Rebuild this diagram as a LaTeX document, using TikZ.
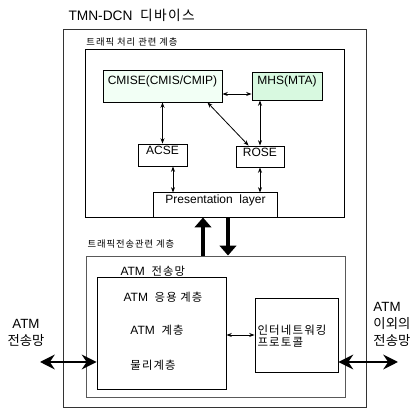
\documentclass[tikz,border=0pt]{standalone}
\usepackage{fontspec}
\setmainfont{Liberation Sans}
\newfontfamily\kr{Noto Sans CJK KR}
\newfontfamily\krwide[LetterSpace=10]{Noto Sans CJK KR}
\usetikzlibrary{fit,calc,arrows.meta}
\definecolor{cmisefill}{RGB}{242,255,245}
\definecolor{mhsfill}{RGB}{216,249,224}
\tikzset{every picture/.style={line width=0.75pt}}
\tikzset{
	layerbox/.style={draw, inner sep=0pt, line width=0.7pt},
	smalllabel/.style={anchor=west, inner sep=0pt, font=\krwide\fontsize{7}{8}\selectfont},
	boxtext/.style={inner sep=0pt, font=\fontsize{9}{10}\selectfont},
	thinarrow/.style={{Stealth[length=4pt,width=3pt]}-{Stealth[length=4pt,width=3pt]}, line width=0.6pt},
	fatarrow/.style={-{Triangle[length=7.5pt,width=12.5pt]}, line width=2.4pt},
	sidearrow/.style={{Stealth[length=11pt,width=11pt]}-{Stealth[length=11pt,width=11pt]}, line width=2.2pt}}

\begin{document}
\begin{tikzpicture}[x=0.75pt,y=0.75pt,yscale=-1,xscale=1]
	\useasboundingbox (0,0) rectangle (419,409);

	% Title
	\node[anchor=west, inner sep=0pt, font=\fontsize{10.3}{12}\selectfont] (title) at (68,15) {TMN-DCN\ \ {\krwide 디바이스}};
	% Device frame
	\node[layerbox, draw=black!80, fit={(63,29) (366,407)}] (device) {};

	%Upper layer
	\node[smalllabel] (uplabel) at (86,42) {트래픽 처리 관련 계층};
	\node[layerbox, fit={(85,49) (344,217)}] (upper) {};
	\node[layerbox, boxtext, fill=cmisefill, fit={(103,70) (222,102)}] (cmise) {CMISE(CMIS/CMIP)};
	\node[layerbox, boxtext, fill=mhsfill, fit={(252,72) (322,100)}] (mhs) {MHS(MTA)};
	\node[layerbox, boxtext, fit={(138,144) (187,166)}] (acse) {ACSE};
	\node[layerbox, boxtext, fit={(236,146) (284,167)}] (rose) {ROSE};
	\node[boxtext, fit={(154,193) (277,217)}] (pres) {Presentation\ \ layer};
	\draw[line width=0.7pt] (pres.south west) |- (pres.north east) -- (pres.south east);

	%Connectors of the upper layer
	\coordinate (acsefoot) at ($(acse.south)+(10.5,0)$);
	\draw[thinarrow] ($(cmise.east)+(0,8)$) -- ($(mhs.west)+(0,8)$);
	\draw[thinarrow] (cmise.south) -- (acse.north);
	\draw[thinarrow] ($(cmise.south east)+(-15,0)$) -- ($(rose.north west)+(13,0)$);
	\draw[thinarrow] (rose.north |- mhs.south) -- (rose.north);
	\draw[thinarrow] (acsefoot) -- (acsefoot |- pres.north);
	\draw[thinarrow] (rose.south) -- (rose.south |- pres.north);

	%Lower layer
	\node[smalllabel] (lowlabel) at (87,244) {트래픽전송관련 계층};
	\node[layerbox, draw=black!65, fit={(86,256) (345,397)}] (lower) {};
	\node[boxtext, anchor=west] (atmnet) at (120,271) {ATM\ \ {\krwide\fontsize{8.5}{10}\selectfont 전송망}};
	\node[layerbox, fit={(97,277) (226,389)}] (atm) {};
	\node[boxtext] (atmapp) at (163,297) {ATM\ \ {\krwide\fontsize{8.5}{10}\selectfont 응용 계층}};
	\node[boxtext] (atmlayer) at (157,330) {ATM\ \ {\krwide\fontsize{8.5}{10}\selectfont 계층}};
	\node[boxtext, font=\krwide\fontsize{8.5}{10}\selectfont] (phy) at (153,365) {물리계층};
	\node[layerbox, fit={(255,298) (338,372)}] (iwk) {};
	\node[boxtext, anchor=west, align=left, font=\krwide\fontsize{8.6}{9.2}\selectfont] (iwktext) at (257,336) {인터네트워킹\\프로토콜};

	%Fat arrows between the layers
	\coordinate (upfoot) at ($(pres.south)+(-12.5,0)$);
	\coordinate (downtop) at ($(pres.south)+(12.5,0)$);
	\draw[fatarrow] (upfoot |- lower.north) -- (upfoot);
	\draw[fatarrow] (downtop) -- (downtop |- lower.north);
	\draw[thinarrow] (iwk.west) -- (iwk.west -| atm.east);

	%Outside networks
	\coordinate (leftend) at (40,362);
	\coordinate (rightend) at (398,362);
	\draw[sidearrow] (leftend) -- (leftend -| atm.west);
	\draw[sidearrow] (iwk.east |- rightend) -- (rightend);
	\node[align=center, inner sep=0pt, font=\fontsize{10}{12.75}\selectfont] (leftnet) at (26,333) {ATM\\{\kr 전송망}};
	\node[anchor=west, align=left, inner sep=0pt, font=\fontsize{10}{12.75}\selectfont] (rightnet) at (373,324) {ATM\\{\kr 이외의}\\{\kr 전송망}};

\end{tikzpicture}
\end{document}
